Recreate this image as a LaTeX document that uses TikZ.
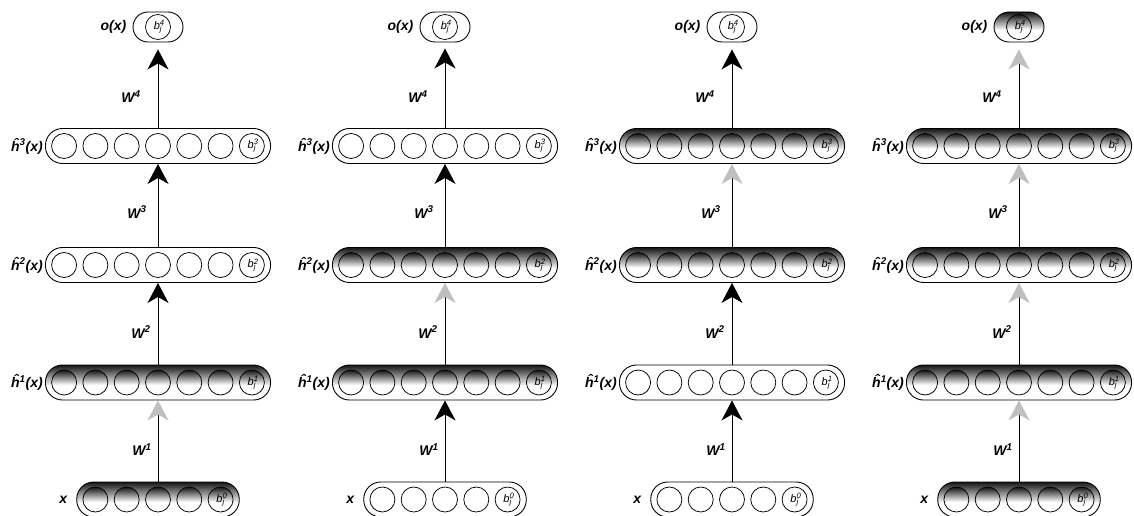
\documentclass[tikz,border=0pt]{standalone}
\usepackage{fontspec}
\setmainfont{Liberation Sans}
\usetikzlibrary{arrows.meta}
\pgfdeclareverticalshading{layershade}{100bp}{color(0bp)=(white); color(25bp)=(white); color(45bp)=(white); color(75bp)=(black!92); color(100bp)=(black!92)}
\tikzset{
  layerbox/.style={draw=black, line width=0.9pt, rounded corners=17pt, minimum height=35pt, inner sep=0pt},
  outbox/.style={draw=black, line width=0.9pt, rounded corners=15pt, minimum height=30pt, minimum width=50pt, inner sep=0pt},
  unitc/.style={draw=black, line width=0.75pt, circle, minimum size=25pt, inner sep=0pt},
  shd/.style={shading=layershade},
  wht/.style={fill=white},
  lab/.style={font=\fontsize{14}{16}\selectfont\bfseries\itshape, inner sep=0pt},
  wlab/.style={font=\fontsize{14}{16}\selectfont\bfseries\itshape, inner sep=0pt},
  btext/.style={font=\fontsize{11}{11}\selectfont\itshape, inner sep=0pt},
  arrblk/.style={draw=black, line width=0.9pt, -{Stealth[length=20pt,width=21pt,inset=6pt]}},
  arrgry/.style={draw=black, line width=0.9pt, -{Stealth[length=20pt,width=21pt,inset=6pt,color=black!25]}},
}
\newcommand\drawlayer[6]{%
  \pgfmathsetmacro\lwid{31.3*#4+6}%
  \node[layerbox,#5,minimum width=\lwid pt] (#1) at (#2,#3) {};%
  \foreach \i in {1,...,#4}{%
    \pgfmathsetmacro\ux{#2+31.3*(\i-(#4+1)/2)}%
    \node[unitc,#5] (#1u\i) at (\ux,#3) {};%
  }%
  \node[btext] at (#1u#4) {b\rlap{\textsuperscript{#6}}\textsubscript{j}};%
}
\newcommand\drawout[4]{%
  \node[outbox,#4] (#1) at (#2,#3) {};%
  \node[unitc,#4] (#1u) at (#2,#3) {};%
  \node[btext] at (#1u) {b\rlap{\textsuperscript{4}}\textsubscript{j}};%
}
\newcommand\drawlabels[2]{% #1 prefix, #2 column x
  \node[lab,anchor=east] at ([xshift=-6pt]#1o.west) {o(x)};
  \node[lab,anchor=east] at ([xshift=-2pt]#1h3.west) {\^{h}\textsuperscript{3}(x)};
  \node[lab,anchor=east] at ([xshift=-2pt]#1h2.west) {\^{h}\textsuperscript{2}(x)};
  \node[lab,anchor=east] at ([xshift=-2pt]#1h1.west) {\^{h}\textsuperscript{1}(x)};
  \node[lab,anchor=east] at ([xshift=-9pt]#1x.west) {x};
  \node[wlab] at (#2-27,97) {W\textsuperscript{4}};
  \node[wlab] at (#2-21,212) {W\textsuperscript{3}};
  \node[wlab] at (#2-17,332) {W\textsuperscript{2}};
  \node[wlab] at (#2-16,450) {W\textsuperscript{1}};
}
\begin{document}
\begin{tikzpicture}[x=1pt,y=-1pt]
\fill[white] (0,0) rectangle (1134,516);
\useasboundingbox (0,0) rectangle (1134,516);

% column 1
\drawout{c1o}{158}{27}{wht}
\drawlayer{c1h3}{158}{146}{7}{wht}{3}
\drawlayer{c1h2}{158}{265}{7}{wht}{2}
\drawlayer{c1h1}{158}{382.5}{7}{shd}{1}
\drawlayer{c1x}{158}{499.5}{5}{shd}{0}
\drawlabels{c1}{158}
\draw[arrblk, shorten >=7pt] (c1h3.north) -- (c1o.south);
\draw[arrblk] (c1h2.north) -- (c1h3.south);
\draw[arrblk] (c1h1.north) -- (c1h2.south);
\draw[arrgry] (c1x.north) -- (c1h1.south);

% column 2
\drawout{c2o}{445}{27}{wht}
\drawlayer{c2h3}{445}{146}{7}{wht}{3}
\drawlayer{c2h2}{445}{265}{7}{shd}{2}
\drawlayer{c2h1}{445}{382.5}{7}{shd}{1}
\drawlayer{c2x}{445}{499.5}{5}{wht}{0}
\drawlabels{c2}{445}
\draw[arrblk, shorten >=6pt] (c2h3.north) -- (c2o.south);
\draw[arrblk] (c2h2.north) -- (c2h3.south);
\draw[arrgry] (c2h1.north) -- (c2h2.south);
\draw[arrblk] (c2x.north) -- (c2h1.south);

% column 3
\drawout{c3o}{732}{27}{wht}
\drawlayer{c3h3}{732}{146}{7}{shd}{3}
\drawlayer{c3h2}{732}{265}{7}{shd}{2}
\drawlayer{c3h1}{732}{382.5}{7}{wht}{1}
\drawlayer{c3x}{732}{499.5}{5}{wht}{0}
\drawlabels{c3}{732}
\draw[arrblk, shorten >=7pt] (c3h3.north) -- (c3o.south);
\draw[arrgry] (c3h2.north) -- (c3h3.south);
\draw[arrblk] (c3h1.north) -- (c3h2.south);
\draw[arrblk] (c3x.north) -- (c3h1.south);

% column 4
\drawout{c4o}{1019}{27}{shd}
\drawlayer{c4h3}{1019}{146}{7}{shd}{3}
\drawlayer{c4h2}{1019}{265}{7}{shd}{2}
\drawlayer{c4h1}{1019}{382.5}{7}{shd}{1}
\drawlayer{c4x}{1019}{499.5}{5}{shd}{0}
\drawlabels{c4}{1019}
\draw[arrgry, shorten >=7pt] (c4h3.north) -- (c4o.south);
\draw[arrgry] (c4h2.north) -- (c4h3.south);
\draw[arrgry] (c4h1.north) -- (c4h2.south);
\draw[arrgry] (c4x.north) -- (c4h1.south);
\end{tikzpicture}
\end{document}
